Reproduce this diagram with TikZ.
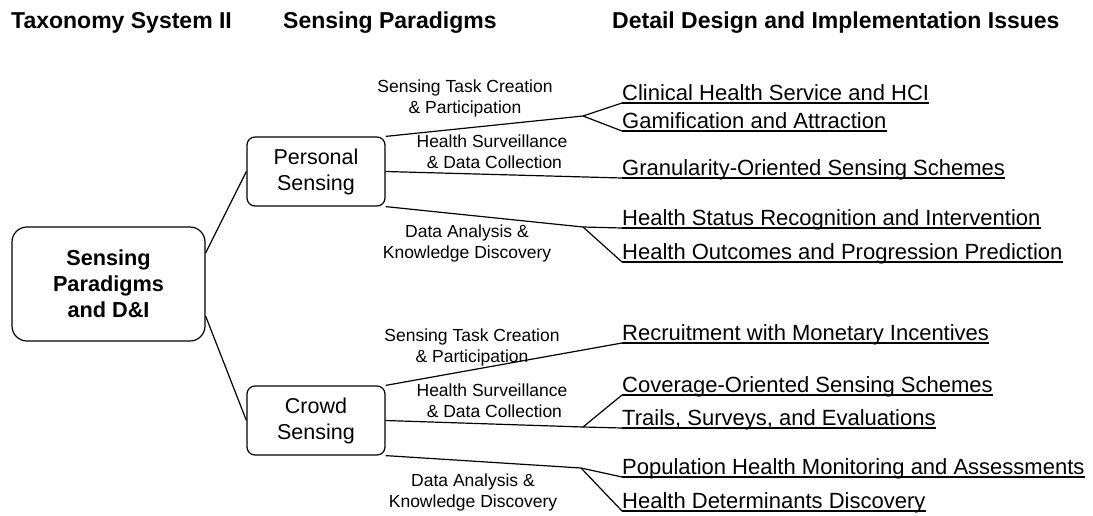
\documentclass[tikz,border=0pt]{standalone}
\usepackage{fontspec}
\setmainfont{Liberation Sans}
\usepackage{tikz}
\tikzset{
    column-title/.style = {anchor=base west, inner sep=0pt, font=\fontsize{23}{28}\selectfont\bfseries},
    root-box/.style = {draw, line width=1.2pt, rectangle, rounded corners=15pt, minimum width=193pt, minimum height=114pt, align=center, font=\fontsize{21.7}{26}\selectfont\bfseries},
    sense-box/.style = {draw, line width=1.2pt, rectangle, rounded corners=8pt, minimum width=138pt, minimum height=69pt, align=center, font=\fontsize{21.5}{26}\selectfont},
    branch-label/.style = {align=center, inner sep=0pt, font=\fontsize{17.5}{21}\selectfont},
    issue-text/.style = {anchor=base west, inner sep=0pt, font=\fontsize{22}{26}\selectfont},
    link/.style = {line width=1.2pt},
}

\begin{document}
\begin{tikzpicture}[x=1pt, y=-1pt]
\useasboundingbox (0,0) rectangle (1093,515);

\node[column-title] (title-tax) at (11,28.5) {Taxonomy System II};
\node[column-title] (title-para) at (283,28.5) {Sensing Paradigms};
\node[column-title] (title-issue) at (612,28.5) {Detail Design and Implementation Issues};

\node[root-box] (root) at (108.5,284) {Sensing\\Paradigms\\and D\&I};
\node[sense-box] (personal) at (316,171.5) {Personal\\Sensing};
\node[sense-box] (crowd) at (316,420.5) {Crowd\\Sensing};

\node[branch-label] (p-task-lbl) at (465,98) {Sensing Task Creation\\\& Participation};
\node[branch-label] (p-surv-lbl) at (492,152) {Health Surveillance\\\hspace*{4.8pt}\& Data Collection};
\node[branch-label] (p-anal-lbl) at (467,243) {Data Analysis \&\\Knowledge Discovery};
\node[branch-label] (c-task-lbl) at (472,347) {Sensing Task Creation\\\& Participation};
\node[branch-label] (c-surv-lbl) at (492,401) {Health Surveillance\\\hspace*{4.8pt}\& Data Collection};
\node[branch-label] (c-anal-lbl) at (473,492) {Data Analysis \&\\Knowledge Discovery};

\node[issue-text] (clinical) at (622,100.5) {Clinical Health Service and HCI};
\node[issue-text] (gamification) at (622,128.5) {Gamification and Attraction};
\node[issue-text] (granularity) at (622,175.5) {Granularity-Oriented Sensing Schemes};
\node[issue-text] (status) at (622,225.5) {Health Status Recognition and Intervention};
\node[issue-text] (outcomes) at (622,259.5) {Health Outcomes and Progression Prediction};
\node[issue-text] (recruitment) at (622,340.5) {Recruitment with Monetary Incentives};
\node[issue-text] (coverage) at (622,392.5) {Coverage-Oriented Sensing Schemes};
\node[issue-text] (trails) at (622,425.5) {Trails, Surveys, and Evaluations};
\node[issue-text] (population) at (622,474.5) {Population Health Monitoring and Assessments};
\node[issue-text] (determinants) at (622,508.5) {Health Determinants Discovery};

\foreach \n in {clinical,gamification,granularity,status,outcomes,recruitment,coverage,trails,population,determinants}
    \draw[link] ([yshift=-2.5pt]\n.base west) -- ([yshift=-2.5pt]\n.base east);

\coordinate (p-task) at (583,116);
\coordinate (p-anal) at (583,227);
\coordinate (c-surv) at (583,427);
\coordinate (c-anal) at (581,468);

\draw[link] ([yshift=31pt]root.east) -- (personal.west);
\draw[link] ([yshift=-32pt]root.east) -- (crowd.west);

\draw[link] (personal.north east) -- (p-task) -- ([yshift=-2.5pt]clinical.base west);
\draw[link] (p-task) -- ([yshift=-2.5pt]gamification.base west);
\draw[link] (personal.east) -- ([yshift=-2.5pt]granularity.base west);
\draw[link] (personal.south east) -- (p-anal) -- ([yshift=-2.5pt]status.base west);
\draw[link] (p-anal) -- ([yshift=-2.5pt]outcomes.base west);

\draw[link] (crowd.north east) -- ([yshift=-2.5pt]recruitment.base west);
\draw[link] (crowd.east) -- (c-surv) -- ([yshift=-2.5pt]trails.base west);
\draw[link] (c-surv) -- ([yshift=-2.5pt]coverage.base west);
\draw[link] (crowd.south east) -- (c-anal) -- ([yshift=-2.5pt]population.base west);
\draw[link] (c-anal) -- ([yshift=-2.5pt]determinants.base west);
\end{tikzpicture}
\end{document}
